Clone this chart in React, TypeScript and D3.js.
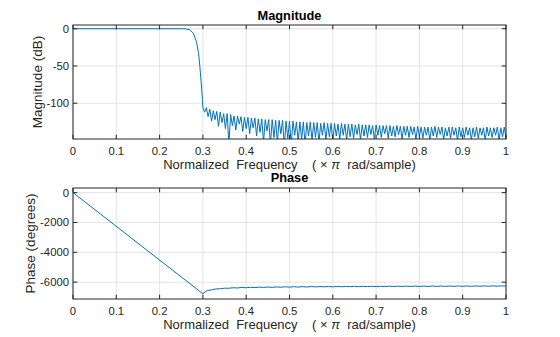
import React from "react";
import * as d3 from "d3";

// ---------- data ----------
const passFreq = [0, 0.1, 0.2, 0.25, 0.26, 0.27, 0.278, 0.285, 0.29, 0.293, 0.296, 0.299, 0.3];
const passDb = [0, 0, 0, 0, -0.2, -1.5, -6, -17, -33, -51, -72, -95, -106];

const peakFreq = [
  0.308, 0.316, 0.324, 0.332, 0.34, 0.348, 0.356, 0.364, 0.372, 0.38, 0.388, 0.396, 0.404, 0.412, 0.42,
  0.428, 0.436, 0.444, 0.452, 0.46, 0.468, 0.476, 0.484, 0.492, 0.5, 0.508, 0.516, 0.524, 0.532, 0.54,
  0.548, 0.556, 0.564, 0.572, 0.58, 0.588, 0.596, 0.604, 0.612, 0.62, 0.628, 0.636, 0.644, 0.652, 0.66,
  0.668, 0.676, 0.684, 0.692, 0.7, 0.708, 0.716, 0.724, 0.732, 0.74, 0.748, 0.756, 0.764, 0.772, 0.78,
  0.788, 0.796, 0.804, 0.812, 0.82, 0.828, 0.836, 0.844, 0.852, 0.86, 0.868, 0.876, 0.884, 0.892, 0.9,
  0.908, 0.916, 0.924, 0.932, 0.94, 0.948, 0.956, 0.964, 0.972, 0.98, 0.988, 0.996,
];
const peakDb = [
  -106, -108, -110, -111, -112, -114, -114, -115, -117, -117, -118, -119, -119, -120, -120,
  -121, -121, -122, -122, -122, -123, -123, -123, -124, -124, -124, -125, -125, -125, -126,
  -125, -126, -126, -127, -126, -127, -127, -127, -128, -127, -128, -128, -128, -129, -128,
  -129, -129, -129, -130, -129, -130, -130, -130, -130, -131, -130, -131, -131, -131, -131,
  -132, -131, -132, -132, -132, -132, -131, -132, -132, -133, -132, -132, -133, -132, -133,
  -132, -133, -133, -132, -133, -133, -132, -133, -133, -132, -133, -132,
];
const nullFreq = [
  0.304, 0.312, 0.32, 0.328, 0.336, 0.344, 0.352, 0.36, 0.368, 0.376, 0.384, 0.392, 0.4, 0.408, 0.416,
  0.424, 0.432, 0.44, 0.448, 0.456, 0.464, 0.472, 0.48, 0.488, 0.496, 0.504, 0.512, 0.52, 0.528, 0.536,
  0.544, 0.552, 0.56, 0.568, 0.576, 0.584, 0.592, 0.6, 0.608, 0.616, 0.624, 0.632, 0.64, 0.648, 0.656,
  0.664, 0.672, 0.68, 0.688, 0.696, 0.704, 0.712, 0.72, 0.728, 0.736, 0.744, 0.752, 0.76, 0.768, 0.776,
  0.784, 0.792, 0.8, 0.808, 0.816, 0.824, 0.832, 0.84, 0.848, 0.856, 0.864, 0.872, 0.88, 0.888, 0.896,
  0.904, 0.912, 0.92, 0.928, 0.936, 0.944, 0.952, 0.96, 0.968, 0.976, 0.984, 0.992, 1.0,
];
const nullDb = [
  -112, -118, -124, -122, -131, -126, -134, -155, -130, -136, -128, -138, -134, -141, -133,
  -144, -139, -152, -137, -155, -146, -152, -141, -158, -147, -155, -143, -152, -148, -156,
  -144, -150, -146, -153, -143, -149, -145, -151, -144, -148, -143, -150, -145, -147, -142,
  -149, -144, -146, -142, -148, -143, -146, -141, -147, -144, -145, -142, -148, -143, -146,
  -142, -149, -144, -147, -143, -150, -144, -146, -142, -149, -144, -147, -143, -150, -145,
  -146, -143, -149, -145, -147, -143, -150, -144, -146, -143, -149, -145, -147,
];

const phaseFreq = [
  0, 0.3, 0.31, 0.32, 0.33, 0.34, 0.35, 0.36, 0.37, 0.38, 0.39, 0.4, 0.41, 0.42, 0.43, 0.44, 0.45,
  0.46, 0.47, 0.48, 0.49, 0.5, 0.51, 0.52, 0.53, 0.54, 0.55, 0.56, 0.57, 0.58, 0.59, 0.6, 0.61, 0.62,
  0.63, 0.64, 0.65, 0.66, 0.67, 0.68, 0.69, 0.7, 0.71, 0.72, 0.73, 0.74, 0.75, 0.76, 0.77, 0.78, 0.79,
  0.8, 0.81, 0.82, 0.83, 0.84, 0.85, 0.86, 0.87, 0.88, 0.89, 0.9, 0.91, 0.92, 0.93, 0.94, 0.95, 0.96,
  0.97, 0.98, 0.99, 1.0,
];
const phaseDeg = [
  0, -6780, -6560, -6520, -6455, -6445, -6405, -6410, -6375, -6390, -6355, -6375, -6345, -6365, -6335, -6355, -6325,
  -6350, -6320, -6340, -6310, -6335, -6305, -6330, -6300, -6325, -6295, -6320, -6295, -6315, -6290, -6315, -6285, -6310,
  -6285, -6305, -6280, -6305, -6280, -6300, -6275, -6300, -6275, -6295, -6270, -6295, -6270, -6290, -6268, -6290, -6265,
  -6288, -6265, -6285, -6262, -6285, -6260, -6282, -6260, -6280, -6258, -6280, -6255, -6278, -6255, -6275, -6252, -6275,
  -6250, -6272, -6250, -6265,
];

const xTicks = [0, 0.1, 0.2, 0.3, 0.4, 0.5, 0.6, 0.7, 0.8, 0.9, 1];
const magTicks = [0, -50, -100];
const phaseTicks = [0, -2000, -4000, -6000];

// ---------- layout ----------
const W = 560;
const H = 337;
const left = 73;
const right = 506;
const FONT = "'Liberation Sans', Arial, Helvetica, sans-serif";
const LINE = "#0072BD";
const AX = "#262626";
const GRID = "#dcdcdc";

const x = d3.scaleLinear().domain([0, 1]).range([left, right]);

function magPoints(): [number, number][] {
  const pts: [number, number][] = passFreq.map((f, i) => [f, passDb[i]]);
  const stop: [number, number][] = [];
  nullFreq.forEach((f, i) => stop.push([f, nullDb[i]]));
  peakFreq.forEach((f, i) => stop.push([f, peakDb[i]]));
  stop.sort((a, b) => a[0] - b[0]);
  return pts.concat(stop);
}

function fmt(v: number) {
  return String(v);
}

type PanelProps = {
  id: string;
  top: number;
  bottom: number;
  yDomain: [number, number];
  yTicks: number[];
  data: [number, number][];
  title: string;
  titleY: number;
  ylabel: string;
  ylabelX: number;
  xTickY: number;
  xLabelY: number;
};

function Panel(p: PanelProps) {
  const y = d3.scaleLinear().domain(p.yDomain).range([p.bottom, p.top]);
  const line = d3
    .line<[number, number]>()
    .x((d) => x(d[0]))
    .y((d) => y(d[1]));
  const tl = 4.3;
  const cx = (left + right) / 2;
  const cy = (p.top + p.bottom) / 2;
  return (
    <g>
      <defs>
        <clipPath id={p.id}>
          <rect x={left} y={p.top} width={right - left} height={p.bottom - p.top} />
        </clipPath>
      </defs>
      <rect x={left} y={p.top} width={right - left} height={p.bottom - p.top} fill="#fff" />
      {xTicks.map((t) => (
        <line key={"gx" + t} x1={x(t)} x2={x(t)} y1={p.top} y2={p.bottom} stroke={GRID} strokeWidth={0.8} />
      ))}
      {p.yTicks.map((t) => (
        <line key={"gy" + t} x1={left} x2={right} y1={y(t)} y2={y(t)} stroke={GRID} strokeWidth={0.8} />
      ))}
      <path d={line(p.data) || ""} fill="none" stroke={LINE} strokeWidth={1} clipPath={`url(#${p.id})`} />
      <rect x={left} y={p.top} width={right - left} height={p.bottom - p.top} fill="none" stroke={AX} strokeWidth={1} />
      {xTicks.map((t) => (
        <g key={"tx" + t}>
          <line x1={x(t)} x2={x(t)} y1={p.bottom} y2={p.bottom - tl} stroke={AX} />
          <line x1={x(t)} x2={x(t)} y1={p.top} y2={p.top + tl} stroke={AX} />
          <text x={x(t)} y={p.xTickY} textAnchor="middle" fontSize={11.3} fill={AX} fontFamily={FONT}>
            {fmt(t)}
          </text>
        </g>
      ))}
      {p.yTicks.map((t) => (
        <g key={"ty" + t}>
          <line x1={left} x2={left + tl} y1={y(t)} y2={y(t)} stroke={AX} />
          <line x1={right} x2={right - tl} y1={y(t)} y2={y(t)} stroke={AX} />
          <text x={left - 4} y={y(t) + 4} textAnchor="end" fontSize={11.3} fill={AX} fontFamily={FONT}>
            {fmt(t)}
          </text>
        </g>
      ))}
      <text x={cx} y={p.titleY} textAnchor="middle" fontSize={12.8} fontWeight="bold" fill="#000" fontFamily={FONT}>
        {p.title}
      </text>
      <text x={cx} y={p.xLabelY} textAnchor="middle" fontSize={13} fill={AX} fontFamily={FONT} xmlSpace="preserve">
        {"Normalized  Frequency    ( \u00d7 "}
        <tspan fontStyle="italic">{"\u03c0"}</tspan>
        {"  rad/sample)"}
      </text>
      <text
        transform={`translate(${p.ylabelX},${cy}) rotate(-90)`}
        textAnchor="middle"
        fontSize={13.5}
        fill={AX}
        fontFamily={FONT}
      >
        {p.ylabel}
      </text>
    </g>
  );
}

export default function App() {
  const mag = magPoints();
  const phase: [number, number][] = phaseFreq.map((f, i) => [f, phaseDeg[i]]);
  return (
    <svg width={W} height={H} style={{ display: "block", position: "absolute", left: 0, top: 0 }}>
      <rect width={W} height={H} fill="#fff" />
      <Panel
        id="clipMag"
        top={25}
        bottom={139}
        yDomain={[-148, 5]}
        yTicks={magTicks}
        data={mag}
        title="Magnitude"
        titleY={19.5}
        ylabel="Magnitude (dB)"
        ylabelX={41.5}
        xTickY={154.5}
        xLabelY={168.5}
      />
      <Panel
        id="clipPhase"
        top={188}
        bottom={299}
        yDomain={[-7130, 310]}
        yTicks={phaseTicks}
        data={phase}
        title="Phase"
        titleY={182}
        ylabel="Phase (degrees)"
        ylabelX={34.5}
        xTickY={314.5}
        xLabelY={328.5}
      />
    </svg>
  );
}
